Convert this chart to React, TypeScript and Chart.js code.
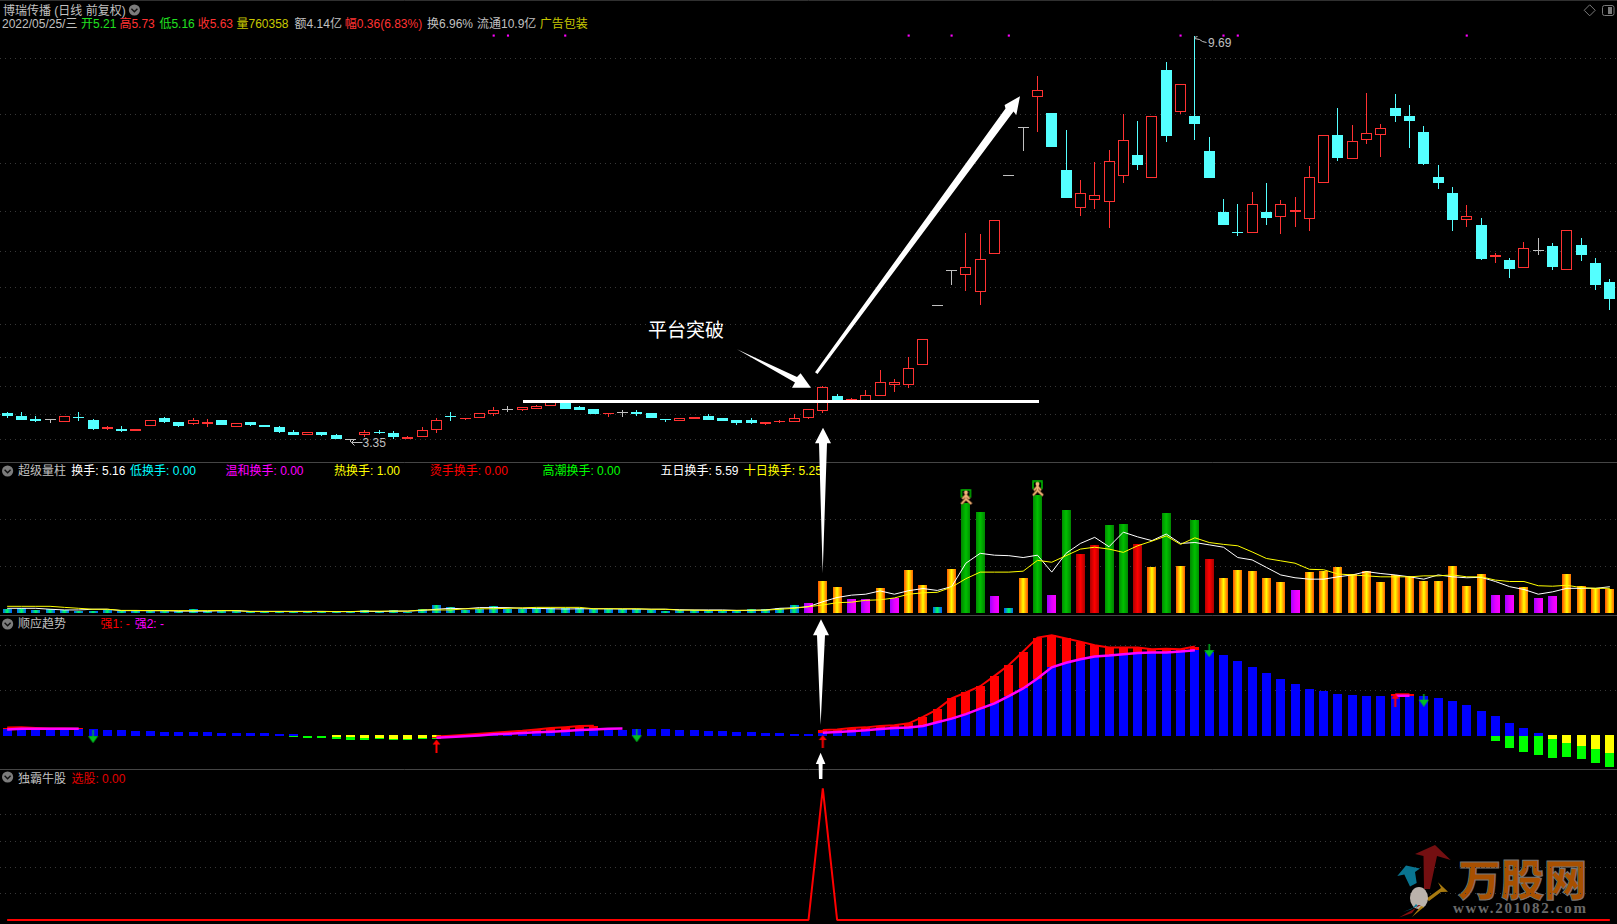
import React, { useEffect, useRef } from "react";
import { Chart, registerables } from "chart.js";

Chart.register(...registerables);

const gap = (n: number): null[] => Array(n).fill(null);
const zeros = (n: number): number[] => Array(n).fill(0);

const opens = [
  3.61,3.59,3.56,3.55,3.53,3.58,3.55,3.47,3.47,3.45,
  3.49,3.57,3.53,3.51,3.51,3.55,3.48,3.53,3.50,3.48,
  3.44,3.41,3.44,3.41,3.37,3.41,3.44,3.43,3.38,3.39,
  3.46,3.59,3.56,3.57,3.60,3.64,3.64,3.65,3.68,3.72,
  3.67,3.65,3.60,3.61,3.62,3.61,3.56,3.54,3.56,3.59,
  3.57,3.55,3.55,3.51,3.53,3.53,3.57,3.63,3.78,3.73,
  3.73,3.78,3.89,3.89,4.10,4.78,5.24,5.18,4.96,5.48,
  6.71,7.61,8.27,7.92,6.82,6.18,6.31,6.27,6.71,7.10,
  6.69,8.86,7.95,7.86,7.17,6.11,5.80,5.79,6.11,6.04,
  6.11,6.01,6.60,7.48,7.03,7.39,7.47,8.03,7.86,7.54,
  6.70,6.43,5.98,5.91,5.44,5.39,5.28,5.52,5.59,5.26,
  5.61,5.35,5.09,
];
const highs = [
  3.62,3.62,3.59,3.55,3.59,3.62,3.56,3.49,3.49,3.47,
  3.55,3.58,3.53,3.57,3.56,3.55,3.52,3.53,3.50,3.49,
  3.46,3.44,3.44,3.42,3.37,3.46,3.46,3.45,3.40,3.48,
  3.57,3.62,3.57,3.61,3.67,3.68,3.67,3.69,3.73,3.73,
  3.68,3.65,3.61,3.64,3.64,3.61,3.56,3.57,3.58,3.60,
  3.57,3.55,3.57,3.53,3.55,3.60,3.65,3.88,3.80,3.76,
  3.84,4.04,3.95,4.18,4.39,4.78,5.24,5.79,5.77,5.98,
  6.71,7.61,8.73,7.92,7.58,6.65,6.96,7.19,7.90,7.76,
  7.85,9.05,8.54,9.69,7.44,6.33,6.24,6.44,6.60,6.31,
  6.36,6.90,7.47,8.03,7.67,8.34,7.70,8.33,8.09,7.66,
  6.91,6.53,6.23,6.02,5.49,5.42,5.65,5.71,5.64,5.84,
  5.71,5.42,5.13,
];
const lows = [
  3.57,3.55,3.53,3.52,3.53,3.54,3.46,3.46,3.44,3.45,
  3.49,3.52,3.48,3.50,3.48,3.50,3.48,3.49,3.48,3.43,
  3.41,3.41,3.40,3.38,3.35,3.39,3.42,3.38,3.38,3.39,
  3.43,3.54,3.55,3.57,3.59,3.62,3.63,3.65,3.68,3.65,
  3.64,3.60,3.58,3.58,3.59,3.57,3.53,3.54,3.56,3.55,
  3.54,3.50,3.51,3.50,3.52,3.53,3.56,3.61,3.73,3.73,
  3.73,3.78,3.82,3.86,4.10,4.78,5.05,4.97,4.79,5.48,
  6.71,7.18,7.54,7.25,6.34,6.05,6.16,5.86,6.60,6.82,
  6.69,7.34,7.90,7.38,6.68,5.91,5.74,5.79,5.91,5.77,
  5.88,5.82,6.60,6.99,7.03,7.30,7.06,7.74,7.23,6.91,
  6.49,5.82,5.88,5.39,5.35,5.14,5.28,5.46,5.25,5.25,
  5.38,4.99,4.73,
];
const closes = [
  3.59,3.55,3.54,3.55,3.59,3.57,3.47,3.48,3.45,3.47,
  3.55,3.53,3.49,3.55,3.53,3.50,3.52,3.50,3.48,3.44,
  3.41,3.44,3.41,3.38,3.37,3.44,3.43,3.39,3.39,3.46,
  3.55,3.58,3.57,3.61,3.64,3.64,3.67,3.68,3.72,3.65,
  3.64,3.60,3.61,3.61,3.60,3.57,3.55,3.57,3.58,3.55,
  3.54,3.52,3.52,3.53,3.54,3.57,3.65,3.87,3.73,3.75,
  3.79,3.92,3.92,4.07,4.39,4.78,5.24,5.30,5.40,5.98,
  6.71,7.61,8.41,7.25,6.34,6.42,6.39,6.98,7.38,6.91,
  7.85,7.46,8.54,7.70,6.68,5.91,5.79,6.24,6.02,6.24,
  6.15,6.70,7.47,7.04,7.36,7.51,7.61,7.86,7.76,6.93,
  6.60,5.99,6.05,5.41,5.46,5.27,5.57,5.52,5.30,5.84,
  5.46,5.05,4.87,
];
const sessions = closes.map((_, i) => String(i + 1));
const signalDots = [34, 35, 39, 63, 66, 70, 82, 85, 86, 102];
const signalDotPrice = 9.7;
const priceGrid = [3.37, 3.6, 3.87, 4.18, 4.56, 5.02, 5.52, 6.12, 6.95, 7.9, 9.14];

const turnover = [
  .85,1.0,.7,.8,.55,.5,.5,.55,.5,.5,.5,.4,.5,.85,.5,.5,.65,.35,.3,.3,
  .3,.3,.3,.3,.3,.65,.4,.65,.3,.85,1.7,1.2,.65,.8,1.5,.9,.9,1.0,1.1,1.1,
  1.05,.9,.9,.9,.85,.7,.5,.55,.55,.55,.5,.5,.8,.8,1.0,1.7,2.1,6.8,5.5,3.0,
  3.0,5.3,3.1,9.1,6.0,1.3,9.4,23.3,21.5,3.6,1.1,7.4,25.1,3.8,21.9,12.6,14.5,18.7,18.9,14.7,
  9.8,21.3,10.0,19.8,11.5,7.4,9.1,8.9,7.4,6.6,4.9,8.7,8.9,9.8,8.3,8.9,6.6,8.1,7.9,6.8,
  6.8,10.0,5.7,8.3,3.8,3.8,5.5,3.2,3.6,8.3,5.7,5.3,5.16,
];
const turnoverKinds =
  "cccccccccccccccccccccccccccccccccccccccccccccccccccccccc" +
  "moommomooco" + "vvmcovmvrrvvrovovr" + "ooooomooooooooooooommommoooo";
const ma5 = [
  1.0,1.0,1.0,.8,.65,.65,.8,.8,.5,.5,.5,.5,.4,.4,.4,.5,.5,.35,.35,.35,.35,.35,.35,.3,.3,.35,.3,.4,.4,.55,
  .8,1.0,.9,1.15,1.15,1.15,1.0,1.0,.9,.85,.9,.9,.9,.85,.85,.8,.8,.7,.65,.65,.65,.55,.55,.65,
  1.0,1.1,1.35,2.4,3.3,3.8,4.0,4.7,4.0,4.75,5.2,4.8,5.6,10.6,12.7,12.3,12.2,11.8,12.3,8.7,12.7,14.8,16.1,14.1,17.2,16.2,
  15.4,16.8,14.8,15,14.5,14,11.8,11.3,9.7,8.1,7.5,7.2,7.2,7.7,8.1,8.8,8.4,8.1,7.7,7.2,8.1,7.7,7.5,7.6,6.7,5.6,5.0,4.0,4.5,5.25,
  5.25,5.25,5.59,
];
const ma10 = [
  1.42,1.42,1.42,1.42,1.2,1.0,.8,.8,.55,.55,.5,.5,.5,.5,.5,.5,.5,.3,.3,.3,.3,.3,.3,.3,.3,.4,.4,.4,.4,.65,
  .65,.65,.9,.9,.9,1.0,1.1,1.2,1.2,1.2,1.2,.9,.9,.9,.9,.8,.8,.6,.6,.55,.55,.55,.6,.6,
  .8,1.0,1.35,1.7,2.2,2.3,2.7,2.8,3.2,4.0,4.3,4.4,5.5,7.3,8.7,8.7,8.7,8.9,11.2,10.8,12.2,13.6,14,13.6,12.9,14.3,
  15.3,16.4,14.6,16,15,14.6,14.3,13,11.6,11.1,10.6,9.3,9.2,8.3,8.1,7.9,7.7,7.7,7.7,7.9,7.9,8.1,7.7,7.7,7.0,6.7,6.7,5.8,5.7,5.9,
  5.4,5.25,5.25,
];
const runnerMarks: Record<number, number> = { 67: 24.6, 72: 26.4 };

const trendBlue: (number | null)[] = [
  1.4,1.4,1.4,1.4,1.4,1.5,1.5,1.25,1.25,1.05,1.05,.8,.8,.8,.8,.6,.6,.6,.6,.35,.35,
  ...gap(10),
  .1,.2,.35,.5,.65,.9,.9,1.05,1.05,1.25,1.25,1.25,1.35,1.4,1.5,1.4,1.25,1.25,1.05,1.05,.8,.8,.6,.6,.35,.35,
  .65,.8,1.0,1.2,1.5,1.7,1.8,2.15,3.0,3.8,4.8,6.0,7.2,8.8,10.5,12.7,15.2,16.2,17,17.6,17.8,18.1,18.4,18.5,18.5,18.7,19.0,
  18.7,17.9,16.6,15.3,13.9,12.6,11.5,10.4,9.9,9.3,9.0,8.8,8.8,9.0,9.0,8.8,8.4,7.7,6.8,5.5,4.4,2.8,1.7,.6,
  ...gap(5),
];
const trendYellowLow: (number | null)[] = [
  ...gap(23), -.3,-.3,-.5,-.5,-.75,-.75,-.75,-.75, ...gap(77), -.75,-1.6,-2.3,-3,-3.85,
];
const trendYellowTop = 0.15;
const trendGreenLow: (number | null)[] = [
  ...gap(20), -.3,-.5,-.5,-.75,-.95,-.95,-.75,-.95,-.95,-.75,-.75, ...gap(73), -1.2,-2.75,-3.6,-4.3,-5,-4.75,-5.2,-6.1,-7,
];
const strong1: (number | null)[] = [
  1.8,1.85,1.7,1.6,1.6,1.55, ...gap(24),
  -.2,0,.2,.45,.65,.9,1.1,1.4,1.7,1.9,2.15,2.2, ...gap(15),
  1.25,1.4,1.7,1.85,2.15,2.3,2.75,4.2,5.85,8.3,9.6,11,13.3,15.7,18.7,21.8,22.3,21.6,20.9,20.1,19.6,19.6,19.6,19.2,19.3,19.2,19.8,
  ...gap(13), 9.2,9.2, ...gap(14),
];
const strong2: (number | null)[] = [
  1.4,1.55,1.55,1.55,1.55,1.55, ...gap(24),
  -.45,-.3,-.15,.05,.3,.45,.6,.75,.9,1.05,1.25,1.4,1.55,1.6, ...gap(13),
  .65,.8,1.0,1.2,1.5,1.7,1.8,2.15,3.0,3.8,4.8,6.0,7.2,8.8,10.5,12.7,15.2,16.2,17,17.6,17.8,18.1,18.4,18.5,18.5,18.7,19.0,
  ...gap(13), 8.9,8.9, ...gap(14),
];
const buySignals: Record<number, number> = { 30: -2.3, 57: -1.3, 97: 7.9 };
const sellSignals: Record<number, number> = { 6: -0.2, 44: 0, 84: 18.9, 99: 7.9 };
const picks = [...zeros(57), 1, ...zeros(55)];

const RED = "#ff3232";
const CYAN = "#54ffff";
const GRAY = "#c0c0c0";

type Txt = { t: string; x: number; y: number; c: string };
const texts: Txt[] = [
  { t: "博瑞传播 (日线 前复权)", x: 3, y: 11, c: GRAY },
  { t: "2022/05/25/三", x: 2, y: 24, c: GRAY },
  { t: "开5.21", x: 81, y: 24, c: "#20e020" },
  { t: "高5.73", x: 119.4, y: 24, c: RED },
  { t: "低5.16", x: 159.4, y: 24, c: "#20e020" },
  { t: "收5.63", x: 197.7, y: 24, c: RED },
  { t: "量760358", x: 236.5, y: 24, c: "#c8c800" },
  { t: "额4.14亿", x: 294.6, y: 24, c: GRAY },
  { t: "幅0.36(6.83%)", x: 344.8, y: 24, c: RED },
  { t: "换6.96%", x: 427, y: 24, c: GRAY },
  { t: "流通10.9亿", x: 477, y: 24, c: GRAY },
  { t: "广告包装", x: 539.7, y: 24, c: "#c8c800" },
  { t: "超级量柱", x: 17.9, y: 471, c: GRAY },
  { t: "换手: 5.16", x: 71.3, y: 471, c: "#ffffff" },
  { t: "低换手: 0.00", x: 130, y: 471, c: "#00ffff" },
  { t: "温和换手: 0.00", x: 225.5, y: 471, c: "#ff00ff" },
  { t: "热换手: 1.00", x: 334, y: 471, c: "#ffff00" },
  { t: "烫手换手: 0.00", x: 429.8, y: 471, c: "#ff0000" },
  { t: "高潮换手: 0.00", x: 542.4, y: 471, c: "#00ff00" },
  { t: "五日换手: 5.59", x: 660.5, y: 471, c: "#ffffff" },
  { t: "十日换手: 5.25", x: 743.8, y: 471, c: "#ffff00" },
  { t: "顺应趋势", x: 17.9, y: 624, c: GRAY },
  { t: "强1: -", x: 100.5, y: 624, c: "#ff0000" },
  { t: "强2: -", x: 134.7, y: 624, c: "#ff00ff" },
  { t: "独霸牛股", x: 17.9, y: 779, c: GRAY },
  { t: "选股: 0.00", x: 71.4, y: 779, c: "#e00000" },
  { t: "3.35", x: 362.6, y: 443, c: GRAY },
  { t: "9.69", x: 1208, y: 43, c: GRAY },
];

function makeSprite(w: number, h: number, paint: (c: CanvasRenderingContext2D) => void) {
  const cv = document.createElement("canvas");
  cv.width = w;
  cv.height = h;
  paint(cv.getContext("2d") as CanvasRenderingContext2D);
  return cv;
}
function poly(c: CanvasRenderingContext2D, pts: number[][], fill: string) {
  c.beginPath();
  pts.forEach(([x, y], i) => (i ? c.lineTo(x, y) : c.moveTo(x, y)));
  c.closePath();
  c.fillStyle = fill;
  c.fill();
}
const runnerSprite = () =>
  makeSprite(15, 17, (c) => {
    c.strokeStyle = "#00c000";
    c.lineWidth = 1.5;
    c.strokeRect(3, 1, 9, 7);
    c.strokeStyle = "#6a3a18";
    c.lineWidth = 3;
    const lines = [[7.5, 5, 7.5, 10], [7.5, 10, 3, 15], [7.5, 10, 13, 15], [7.5, 6, 4, 10], [7.5, 6, 11, 10]];
    const stroke = () =>
      lines.forEach(([a, b, d, e]) => {
        c.beginPath();
        c.moveTo(a, b);
        c.lineTo(d, e);
        c.stroke();
      });
    stroke();
    c.strokeStyle = "#f2b47a";
    c.lineWidth = 1.7;
    stroke();
    c.fillStyle = "#f2b47a";
    c.beginPath();
    c.arc(7.5, 3.5, 2, 0, 7);
    c.fill();
  });
const upSprite = () =>
  makeSprite(9, 13, (c) => {
    poly(c, [[4.5, 0], [8.5, 5], [5.5, 5], [5.5, 13], [3.5, 13], [3.5, 5], [0.5, 5]], "#ff0000");
  });
const downSprite = () =>
  makeSprite(11, 13, (c) => {
    poly(c, [[5.5, 13], [10.5, 6], [6.2, 6], [6.2, 0], [4.8, 0], [4.8, 6], [0.5, 6]], "#00c020");
  });

function barFill(c: any) {
  if (c.dataIndex === undefined) return "#000";
  const kind = turnoverKinds[c.dataIndex];
  const x = c.chart.scales.x.getPixelForValue(c.dataIndex);
  if (!Number.isFinite(x)) return "#000";
  const g = c.chart.ctx.createLinearGradient(x - 4.5, 0, x + 4.5, 0);
  const stops: Record<string, string[]> = {
    o: ["#ff5a00", "#ffff00", "#ff5a00"],
    v: ["#008a00", "#00c000", "#008a00"],
    m: ["#a000ff", "#e000ff", "#ff00ff"],
    r: ["#b00000", "#ff0000", "#b00000"],
    c: ["#0060ff", "#00ff60", "#0060ff"],
  };
  const s = stops[kind] || stops.o;
  g.addColorStop(0, s[0]);
  g.addColorStop(0.5, s[1]);
  g.addColorStop(1, s[2]);
  return g;
}

const pixelSnap = {
  id: "pixelSnap",
  afterDatasetsUpdate(chart: any) {
    chart.getSortedVisibleDatasetMetas().forEach((meta: any) => {
      if (meta.type !== "bar") return;
      meta.data.forEach((el: any) => {
        if (!Number.isFinite(el.y) || !Number.isFinite(el.base)) return;
        el.x = Math.floor(el.x) + 0.5;
        el.y = Math.round(el.y);
        el.base = Math.round(el.base);
        if (Math.abs(el.y - el.base) < 1) el.y = el.base - 1;
      });
    });
  },
};

const frame = {
  id: "frame",
  beforeDatasetsDraw(chart: any) {
    const { ctx, scales, width } = chart;
    ctx.save();
    ctx.strokeStyle = "#454545";
    ctx.lineWidth = 1;
    [scales.yMain.bottom, scales.yTurn.bottom, scales.yTrend.bottom].forEach((y: number) => {
      ctx.beginPath();
      ctx.moveTo(0, Math.round(y) + 0.5);
      ctx.lineTo(width, Math.round(y) + 0.5);
      ctx.stroke();
    });
    ctx.strokeStyle = "#303030";
    ctx.beginPath();
    ctx.moveTo(0, 0.5);
    ctx.lineTo(width, 0.5);
    ctx.stroke();
    ctx.restore();
  },
  afterDraw(chart: any) {
    const { ctx, scales } = chart;
    ctx.save();
    // extreme price flags
    const xs = scales.x;
    const ym = scales.yMain;
    const lowI = lows.indexOf(Math.min(...lows));
    const highI = highs.indexOf(Math.max(...highs));
    ctx.strokeStyle = GRAY;
    ctx.lineWidth = 1;
    const lx = Math.floor(xs.getPixelForValue(lowI)) + 0.5;
    const ly = Math.round(ym.getPixelForValue(lows[lowI])) + 0.5;
    ctx.beginPath();
    ctx.moveTo(lx + 12, ly);
    ctx.lineTo(lx + 1, ly);
    ctx.moveTo(lx + 1, ly);
    ctx.lineTo(lx + 4, ly - 3);
    ctx.moveTo(lx + 1, ly);
    ctx.lineTo(lx + 4, ly + 3);
    ctx.stroke();
    const hx = Math.floor(xs.getPixelForValue(highI)) + 0.5;
    const hy = Math.round(ym.getPixelForValue(highs[highI])) + 0.5;
    ctx.beginPath();
    ctx.moveTo(hx, hy + 1);
    ctx.lineTo(hx + 3, hy);
    ctx.moveTo(hx, hy + 2);
    ctx.lineTo(hx + 5, hy + 3);
    ctx.lineTo(hx + 8, hy + 5);
    ctx.lineTo(hx + 12, hy + 6);
    ctx.stroke();
    // annotation arrows over the chart
    ctx.fillStyle = "#fff";
    ctx.fillRect(523, 400, 516, 3);
    poly(ctx, [[737, 349.3], [797, 377], [800.6, 373.3], [811, 387.7], [792, 387.7], [795, 382.5]], "#fff");
    poly(ctx, [[815, 372.3], [1005.5, 108.5], [1004.6, 105], [1020, 96.3], [1016.3, 115], [1013.5, 111.5], [817.5, 374]], "#fff");
    poly(ctx, [[823, 427.7], [831, 443.3], [827, 443.3], [822.7, 573.3], [819, 443.3], [815, 443.3]], "#fff");
    poly(ctx, [[821, 619.3], [829, 635.3], [825, 635.3], [820.6, 725], [817, 635.3], [813, 635.3]], "#fff");
    poly(ctx, [[820.6, 752.7], [825.4, 764], [822.6, 764], [822.4, 779], [819, 779], [818.6, 764], [815.8, 764]], "#fff");
    // collapse buttons
    [[134.4, 10], [7.6, 471], [7.6, 624], [7.6, 777]].forEach(([cx, cy]) => {
      ctx.fillStyle = "#7c7c7c";
      ctx.beginPath();
      ctx.arc(cx, cy, 5.6, 0, 7);
      ctx.fill();
      ctx.strokeStyle = "#101010";
      ctx.lineWidth = 1.4;
      ctx.beginPath();
      ctx.moveTo(cx - 3, cy - 1.2);
      ctx.lineTo(cx, cy + 1.8);
      ctx.lineTo(cx + 3, cy - 1.2);
      ctx.stroke();
    });
    // window controls
    ctx.strokeStyle = "#7a7a7a";
    ctx.lineWidth = 1;
    ctx.beginPath();
    ctx.moveTo(1589.7, 4.8);
    ctx.lineTo(1595.2, 10.3);
    ctx.lineTo(1589.7, 15.8);
    ctx.lineTo(1584.2, 10.3);
    ctx.closePath();
    ctx.stroke();
    ctx.beginPath();
    ctx.roundRect(1602.5, 5.5, 11.5, 10, 2);
    ctx.stroke();
    ctx.fillStyle = "#7a7a7a";
    ctx.fillRect(1608, 7, 4, 7);
    // watermark emblem
    ctx.globalAlpha = 0.95;
    poly(ctx, [[1397.3, 876], [1406, 865.5], [1420, 868.5], [1415, 872], [1416.7, 883], [1410, 886.5], [1404.3, 874.5]], "#0a7a98");
    poly(ctx, [[1435, 845], [1415, 854], [1423.5, 856], [1424, 889], [1430, 889], [1437, 856], [1450.7, 860]], "#7a1012");
    poly(ctx, [[1448, 891.7], [1438, 882.3], [1441, 888], [1426, 899], [1429, 901], [1441, 892]], "#b08010");
    ctx.fillStyle = "#c4bcb4";
    ctx.beginPath();
    ctx.ellipse(1419, 898, 9, 11, 0, 0, 7);
    ctx.fill();
    poly(ctx, [[1418, 905], [1421, 905], [1399, 917.5], [1412, 913]], "#8a1010");
    poly(ctx, [[1416, 904], [1418, 906], [1403, 912], [1412, 909]], "#0a7a98");
    poly(ctx, [[1421, 906], [1424, 907], [1412, 917]], "#b08010");
    ctx.restore();
  },
};

export default function App() {
  const ref = useRef<HTMLCanvasElement | null>(null);
  useEffect(() => {
    document.body.style.margin = "0";
    document.body.style.background = "#000";
    const canvas = ref.current as HTMLCanvasElement;
    const dotData = sessions.map((_, i) => (signalDots.includes(i) ? signalDotPrice : null));
    const pick = (m: Record<number, number>) => sessions.map((_, i) => (m[i] === undefined ? null : m[i]));
    const up = (i: number) => closes[i] > opens[i];
    const flat = (i: number) => closes[i] === opens[i];
    const candleColor = (c: any) =>
      c.dataIndex === undefined ? RED : flat(c.dataIndex) ? GRAY : up(c.dataIndex) ? RED : CYAN;
    const hollow = (c: any) =>
      c.dataIndex === undefined ? "#000" : flat(c.dataIndex) ? GRAY : up(c.dataIndex) ? "#000" : CYAN;
    const flatBar = { type: "bar" as const, grouped: false, borderSkipped: false, inflateAmount: 0, xAxisID: "x" };
    const chart = new Chart(canvas, {
      type: "bar",
      data: {
        labels: sessions,
        datasets: [
          { ...flatBar, label: "影线", yAxisID: "yMain", order: 30, barThickness: 1,
            data: sessions.map((_, i) => [lows[i], highs[i]]), backgroundColor: candleColor, borderWidth: 0 },
          { ...flatBar, label: "K线", yAxisID: "yMain", order: 29, barThickness: 11,
            data: sessions.map((_, i) => [Math.min(opens[i], closes[i]), Math.max(opens[i], closes[i])]),
            backgroundColor: hollow, borderColor: candleColor, borderWidth: 1 },
          { type: "line", label: "信号", yAxisID: "yMain", order: 28, data: dotData, showLine: false,
            pointStyle: "rect", pointRadius: 1.5, pointBackgroundColor: "#ff00ff", pointBorderWidth: 0 },

          { ...flatBar, label: "换手", yAxisID: "yTurn", order: 20, barThickness: 9, data: turnover,
            backgroundColor: barFill, borderWidth: 0 },
          { type: "line", label: "五日换手", yAxisID: "yTurn", order: 19, data: ma5, borderColor: "#ffffff",
            borderWidth: 1, pointRadius: 0, tension: 0 },
          { type: "line", label: "十日换手", yAxisID: "yTurn", order: 18, data: ma10, borderColor: "#ffff00",
            borderWidth: 1, pointRadius: 0, tension: 0 },
          { type: "line", label: "标记", yAxisID: "yTurn", order: 17, data: pick(runnerMarks), showLine: false,
            pointStyle: runnerSprite(), pointRadius: 7 },

          { ...flatBar, label: "趋势", yAxisID: "yTrend", order: 16, barThickness: 9, data: trendBlue,
            backgroundColor: "#0000ff", borderWidth: 0 },
          { ...flatBar, label: "弱势", yAxisID: "yTrend", order: 15, barThickness: 9,
            data: trendYellowLow.map((v) => (v === null ? null : [v, trendYellowTop])),
            backgroundColor: "#ffff00", borderWidth: 0 },
          { ...flatBar, label: "下跌", yAxisID: "yTrend", order: 14, barThickness: 9,
            data: trendGreenLow.map((v, i) => (v === null ? null : [v, trendYellowLow[i] ?? 0])),
            backgroundColor: "#00ff00", borderWidth: 0 },
          { ...flatBar, label: "强势", yAxisID: "yTrend", order: 13, barThickness: 9,
            data: strong1.map((v, i) => (v === null || strong2[i] === null ? null : [strong2[i], v])),
            backgroundColor: "#ff0000", borderWidth: 0 },
          { type: "line", label: "强1", yAxisID: "yTrend", order: 12, data: strong1, borderColor: "#ff0000",
            borderWidth: 2, pointRadius: 0, tension: 0, spanGaps: false },
          { type: "line", label: "强2", yAxisID: "yTrend", order: 11, data: strong2, borderColor: "#ff00ff",
            borderWidth: 2.5, pointRadius: 0, tension: 0, spanGaps: false },
          { type: "line", label: "买", yAxisID: "yTrend", order: 10, data: pick(buySignals), showLine: false,
            pointStyle: upSprite(), pointRadius: 6 },
          { type: "line", label: "卖", yAxisID: "yTrend", order: 9, data: pick(sellSignals), showLine: false,
            pointStyle: downSprite(), pointRadius: 6 },

          { type: "line", label: "选股", yAxisID: "yPick", order: 5, data: picks, borderColor: "#ff0000",
            borderWidth: 2, borderJoinStyle: "bevel", pointRadius: 0, tension: 0 },
        ] as any,
      },
      options: {
        animation: false,
        responsive: false,
        devicePixelRatio: 1,
        events: [],
        layout: { autoPadding: false, padding: { left: -1, top: 0, right: 0, bottom: 0 } },
        plugins: { legend: { display: false }, tooltip: { enabled: false }, title: { display: false } },
        scales: {
          x: { type: "category", display: false, offset: true, grid: { display: false } },
          yPick: axis(-0.0304, 1.148, [0.2, 0.4, 0.6, 0.8], 155, "linear"),
          yTrend: axis(-7.4, 26.82, [10, 20], 154, "linear"),
          yTurn: axis(-0.4255, 32.13, [10, 20], 153, "linear"),
          yMain: axis(3.179, 10.646, priceGrid, 462, "logarithmic"),
        } as any,
      },
      plugins: [pixelSnap, frame],
    } as any);
    return () => chart.destroy();
  }, []);

  return (
    <div style={{ position: "absolute", left: 0, top: 0, width: 1617, height: 924, background: "#000", overflow: "hidden" }}>
      {texts.map((k) => (
        <span key={k.t + k.x} style={{ position: "absolute", left: k.x, top: k.y - 8, lineHeight: "16px", fontSize: 12,
          fontFamily: "'Liberation Sans','Noto Sans CJK SC',sans-serif", color: k.c, whiteSpace: "nowrap" }}>{k.t}</span>
      ))}
      <span style={{ position: "absolute", left: 648, top: 316, lineHeight: "26px", fontSize: 19,
        fontFamily: "'Noto Sans CJK SC',sans-serif", color: "#fff", whiteSpace: "nowrap" }}>平台突破</span>
      <span style={{ position: "absolute", left: 1458, top: 852, lineHeight: "50px", fontSize: 43, fontWeight: 900,
        fontFamily: "'Noto Sans CJK SC',sans-serif", color: "#a85000", WebkitTextStroke: "1px #777", whiteSpace: "nowrap" }}>万股网</span>
      <span style={{ position: "absolute", left: 1453, top: 900, lineHeight: "16px", fontSize: 15, fontWeight: 700,
        fontFamily: "'Liberation Serif',serif", color: "#6a6a6a", letterSpacing: 1.7, whiteSpace: "nowrap" }}>www.201082.com</span>
      <canvas ref={ref} width={1617} height={924}
        style={{ position: "absolute", left: 0, top: 0, width: 1617, height: 924 }} />
    </div>
  );
}

function axis(min: number, max: number, grid: number[], weight: number, type: string) {
  return {
    type,
    min,
    max,
    stack: "panels",
    stackWeight: weight,
    position: "left",
    offset: false,
    grid: { color: "#383838", lineWidth: 1, drawTicks: false, tickLength: 0 },
    border: { display: false, dash: [1, 4] },
    ticks: { display: false },
    afterBuildTicks(scale: any) {
      scale.ticks = grid.map((value) => ({ value }));
    },
  };
}
